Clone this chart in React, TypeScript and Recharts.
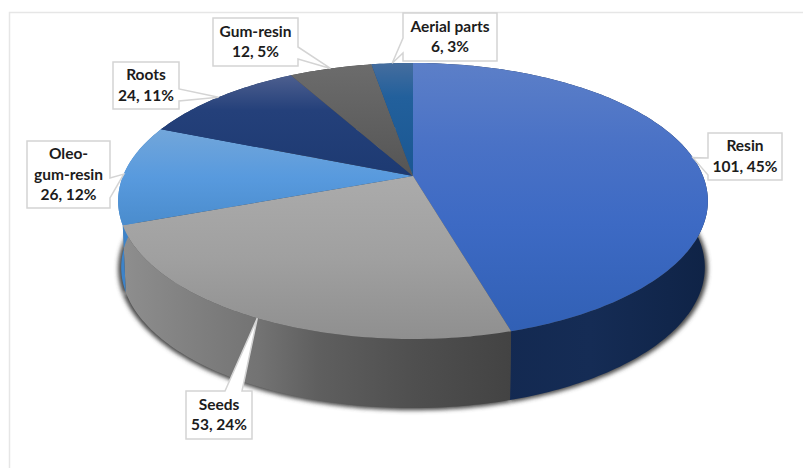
import { Cell, Pie, PieChart } from "recharts"

const WIDTH = 803
const HEIGHT = 468
const CENTER_X = 413
const CENTER_Y = 176

const names = ["Resin", "Seeds", "Oleo-\ngum-resin", "Roots", "Gum-resin", "Aerial parts"]
const counts = [101, 53, 26, 24, 12, 6]

const topStops = [
  [["0", "#5c7fc8"], ["0.3", "#4a72c6"], ["0.6", "#3d6ac4"], ["1", "#3160b5"]],
  [["0", "#ababab"], ["0.5", "#a0a0a0"], ["1", "#8f8f8f"]],
  [["0", "#72a6da"], ["0.5", "#589ade"], ["1", "#4a8ccd"]],
  [["0", "#4d5f8f"], ["0.35", "#24407a"], ["1", "#1d3a72"]],
  [["0", "#6c6c6c"], ["1", "#555555"]],
  [["0", "#456d9e"], ["0.3", "#22609c"], ["1", "#1a5792"]],
]

const wallStops = [
  [["0", "#11264d"], ["0.6", "#152c55"], ["1", "#0f2346"]],
  [["0", "#8e8e8e"], ["0.35", "#737373"], ["0.5", "#5f5f5f"], ["0.75", "#4f4f4f"], ["1", "#434343"]],
  [["0", "#3d83c9"], ["1", "#3d83c9"]],
  [["0", "#16305f"], ["1", "#16305f"]],
  [["0", "#444444"], ["1", "#444444"]],
  [["0", "#174a80"], ["1", "#174a80"]],
]

// callout boxes: [left, top, right, bottom], then the side the pointer leaves from and its base
const calloutBoxes = [
  { box: [708, 133, 782, 180], side: "left", base: [158, 175] },
  { box: [186, 391, 252, 439], side: "top", base: [225, 242] },
  { box: [27, 141, 110, 208], side: "right", base: [178, 198] },
  { box: [113, 62, 179, 109], side: "right", base: [89, 101] },
  { box: [213, 18, 298, 66], side: "right", base: [47, 59] },
  { box: [403, 13, 497, 61], side: "left", base: [38, 53] },
]

const sources = names.map((name, i) => ({ name, value: counts[i] }))

// The disc is tilted away from the viewer, so a flat circle goes through a perspective divide
const PERSPECTIVE = 0.181
const TOP_DISC = { a: 290, b: 133.5, dy: 0 }
const BASE_DISC = { a: 287, b: 136, dy: 66 }
const SHADOW_DISC = { a: 290, b: 137, dy: 67 }

type Disc = { a: number; b: number; dy: number }

function project(cx: number, cy: number, angle: number, disc: Disc): [number, number] {
  const rad = (angle * Math.PI) / 180
  const u = Math.cos(rad)
  const v = Math.sin(rad)
  const w = 1 + PERSPECTIVE * v
  return [cx + (disc.a * u) / w, cy + disc.dy - (disc.b * v) / w]
}

function arc(cx: number, cy: number, from: number, to: number, disc: Disc) {
  const steps = Math.max(2, Math.ceil(Math.abs(to - from)))
  const pts: string[] = []
  for (let i = 0; i <= steps; i++) {
    const [x, y] = project(cx, cy, from + ((to - from) * i) / steps, disc)
    pts.push(`${x.toFixed(2)},${y.toFixed(2)}`)
  }
  return pts
}

function TopSlice({ cx, cy, startAngle, endAngle, fill }: any) {
  const d = `M${cx},${cy} L${arc(cx, cy, startAngle, endAngle, TOP_DISC).join(" L")} Z`
  return <path d={d} fill={fill} />
}

function WallSlice({ cx, cy, startAngle, endAngle, fill }: any) {
  const upper = arc(cx, cy, startAngle, endAngle, TOP_DISC)
  const lower = arc(cx, cy, endAngle, startAngle, BASE_DISC)
  return <path d={`M${[...upper, ...lower].join(" L")} Z`} fill={fill} />
}

function ShadowSlice({ cx, cy, startAngle, endAngle }: any) {
  const d = `M${cx},${cy + SHADOW_DISC.dy} L${arc(cx, cy, startAngle, endAngle, SHADOW_DISC).join(" L")} Z`
  return <path d={d} fill="#4a4a4a" filter="url(#soft)" />
}

function Callout({ cx, cy, midAngle, percent, index, name, value }: any) {
  const { box, side, base } = calloutBoxes[index]
  const [l, t, r, b] = box
  const [tx, ty] = project(cx, cy, midAngle, TOP_DISC)
  let d = ""
  if (side === "left") {
    d = `M${l},${t} H${r} V${b} H${l} V${base[1]} L${tx},${ty} L${l},${base[0]} Z`
  } else if (side === "right") {
    d = `M${l},${t} H${r} V${base[0]} L${tx},${ty} L${r},${base[1]} V${b} H${l} Z`
  } else {
    d = `M${l},${t} H${base[0]} L${tx},${ty} L${base[1]},${t} H${r} V${b} H${l} Z`
  }
  const lines = [...String(name).split("\n"), `${value}, ${Math.round(percent * 100)}%`]
  const midX = (l + r) / 2
  const firstY = (t + b) / 2 - ((lines.length - 1) * 20.5) / 2 + 5
  return (
    <g>
      <path d={d} fill="#ffffff" stroke="#d4d4d4" strokeWidth={1.5} />
      {lines.map((line, i) => (
        <text
          key={i}
          x={midX}
          y={firstY + i * 20.5}
          textAnchor="middle"
          fontFamily="Lato, sans-serif"
          fontWeight={700}
          fontSize={15.5}
          fill="#1c1c1c"
        >
          {line}
        </text>
      ))}
    </g>
  )
}

export default function App() {
  const pieProps = {
    data: sources,
    dataKey: "value",
    nameKey: "name",
    cx: CENTER_X,
    cy: CENTER_Y,
    outerRadius: 100,
    startAngle: 90,
    endAngle: -270,
    stroke: "none",
    isAnimationActive: false,
  }
  return (
    <div style={{ position: "absolute", left: 0, top: 0, width: WIDTH, height: HEIGHT, background: "#fff" }}>
      <PieChart width={WIDTH} height={HEIGHT} margin={{ top: 0, right: 0, bottom: 0, left: 0 }}>
        <defs>
          <filter id="soft" x="-10%" y="-10%" width="120%" height="120%">
            <feGaussianBlur stdDeviation="2" />
          </filter>
          {topStops.map((stops, i) => (
            <linearGradient key={i} id={`top-${i}`} x1="0" y1="0" x2="0" y2="1">
              {stops.map(([offset, color]) => (
                <stop key={offset} offset={offset} stopColor={color} />
              ))}
            </linearGradient>
          ))}
          {wallStops.map((stops, i) => (
            <linearGradient key={i} id={`wall-${i}`} x1="0" y1="0" x2="1" y2="0">
              {stops.map(([offset, color]) => (
                <stop key={offset} offset={offset} stopColor={color} />
              ))}
            </linearGradient>
          ))}
        </defs>
        <path d="M9.5,468 V12.5 H803" fill="none" stroke="#e6e6e6" strokeWidth={1.5} />
        <Pie {...pieProps} shape={ShadowSlice} />
        <Pie {...pieProps} shape={WallSlice}>
          {sources.map((_, i) => (
            <Cell key={i} fill={`url(#wall-${i})`} />
          ))}
        </Pie>
        <Pie {...pieProps} shape={TopSlice} labelLine={false} label={Callout}>
          {sources.map((_, i) => (
            <Cell key={i} fill={`url(#top-${i})`} />
          ))}
        </Pie>
      </PieChart>
    </div>
  )
}
